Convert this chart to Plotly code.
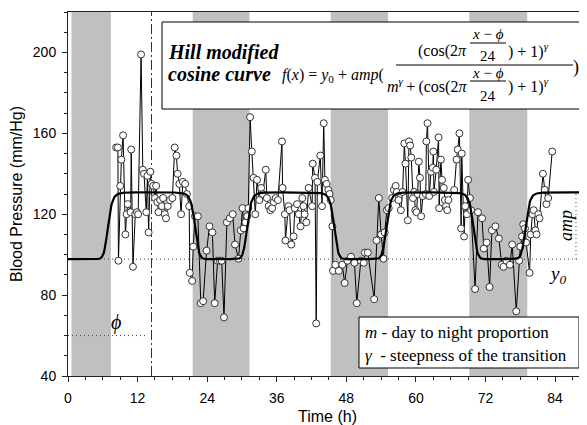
import numpy as np
import plotly.graph_objects as go

# ---------------- data ----------------
time_h = [8.3, 8.6, 8.7, 9.0, 9.2, 9.5, 9.9, 10.1, 10.3, 10.8, 10.9, 11.2, 11.6, 11.9, 12.1, 12.6, 12.9, 13.1,
          13.5, 13.7, 13.9, 14.2, 14.4, 14.7, 15.0, 15.2, 15.4, 15.6, 15.9, 16.2, 16.4, 16.7, 16.9, 17.2, 17.6,
          18.0, 18.4, 18.7, 18.9, 19.2, 19.5, 19.8, 20.2, 20.5, 20.9, 21.0, 21.4, 21.6, 21.9, 22.4, 22.9, 23.3,
          23.9, 24.4, 24.9, 25.3, 25.8, 26.2, 26.5, 26.9, 27.4, 27.9, 28.4, 28.8, 29.4, 29.8, 30.1, 30.3, 30.6,
          30.9, 31.1, 31.4, 31.7, 32.0, 32.3, 32.6, 33.0, 33.3, 33.6, 34.1, 34.3, 34.6, 34.9, 35.2, 35.5, 35.8,
          36.2, 36.9, 37.0, 37.4, 37.5, 38.0, 38.2, 38.5, 38.9, 39.1, 39.5, 39.8, 40.1, 40.4, 40.6, 40.8, 41.1,
          41.5, 42.1, 42.2, 42.6, 42.8, 43.0, 43.5, 43.8, 44.1, 44.3, 44.6, 44.9, 45.1, 45.3, 45.6, 45.7, 46.1,
          46.7, 47.3, 47.7, 48.2, 48.8, 49.4, 49.8, 50.5, 51.0, 51.2, 51.7, 52.8, 53.2, 53.6, 54.0, 54.4, 54.6,
          55.0, 55.3, 55.9, 56.2, 56.5, 56.7, 57.0, 57.4, 57.7, 58.0, 58.2, 58.6, 58.8, 59.0, 59.2, 59.5, 59.7,
          59.9, 60.1, 60.3, 60.5, 60.7, 60.9, 61.2, 61.7, 61.8, 62.0, 62.3, 62.6, 62.9, 63.0, 63.1, 63.5, 63.9,
          64.0, 64.3, 64.5, 64.8, 65.0, 65.2, 65.4, 65.6, 66.6, 67.0, 67.2, 67.5, 67.8, 67.9, 68.3, 68.5, 68.8,
          69.0, 69.3, 69.5, 70.2, 70.7, 71.4, 71.7, 72.2, 72.7, 73.1, 73.7, 74.3, 74.8, 75.1, 75.6, 76.2, 76.6,
          77.3, 77.8, 78.0, 78.3, 78.5, 78.8, 79.0, 79.6, 79.8, 80.1, 80.3, 80.6, 80.8, 81.1, 81.3, 81.9, 82.2,
          82.5, 82.8, 83.5]
bp_mmhg = [153, 153, 97, 134, 147, 159, 110, 120, 125, 121, 152, 94, 120, 121, 120, 199, 142, 140,
           121, 139, 111, 141, 135, 134, 128, 134, 126, 121, 127, 124, 128, 120, 118, 124, 127,
           128, 153, 149, 140, 135, 120, 136, 135, 130, 124, 91, 87, 104, 119, 119, 76, 77,
           102, 114, 111, 76, 97, 97, 97, 69, 116, 118, 120, 105, 98, 112, 123, 113, 116,
           119, 123, 168, 151, 138, 120, 137, 127, 133, 130, 142, 128, 124, 122, 123, 126, 128,
           127, 156, 133, 120, 107, 124, 122, 105, 109, 123, 125, 120, 114, 128, 124, 120, 116,
           133, 124, 145, 138, 66, 136, 149, 124, 165, 137, 135, 132, 130, 127, 114, 92, 95,
           92, 95, 86, 97, 99, 96, 76, 97, 96, 101, 101, 78, 107, 128, 110, 98, 111,
           122, 123, 128, 132, 134, 131, 127, 122, 131, 155, 145, 117, 156, 154, 148, 128, 131,
           122, 121, 130, 146, 138, 119, 129, 130, 156, 165, 129, 141, 143, 151, 131, 142, 158,
           123, 147, 137, 133, 127, 124, 122, 127, 132, 147, 152, 160, 113, 150, 109, 124, 120,
           137, 128, 122, 83, 121, 118, 103, 106, 84, 112, 114, 108, 95, 94, 97, 95, 105,
           72, 97, 104, 109, 115, 113, 106, 91, 110, 120, 122, 112, 110, 120, 118, 140, 132,
           125, 128, 151]

# night periods (shaded)
night_start = [0.6, 21.5, 45.3, 69.2]
night_end = [7.4, 31.3, 55.2, 79.2]

# fitted Hill modified cosine parameters
y0 = 97.8
amp = 33.0
phi = 14.4
m_par = 0.62
gamma = 7.0

x_tick_vals = [0, 12, 24, 36, 48, 60, 72, 84]
y_tick_vals = [40, 80, 120, 160, 200]

# ---------------- layout geometry ----------------
# the page body has an 8px margin, so the figure starts at (8, 8) in the window
OFF = 8
W, H = 587 - OFF, 425 - OFF
ML, MR, MT, MB = 68 - OFF, 0, 12 - OFF, 49
XMIN, XMAX = 0, 89.5
YMIN, YMAX = 40, 220
PW, PH = W - ML - MR, H - MT - MB


def px2x(px):  # window pixel -> data x
    return XMIN + (px - OFF - ML) / PW * (XMAX - XMIN)


def py2y(py):  # window pixel -> data y
    return YMIN + (H - MB - (py - OFF)) / PH * (YMAX - YMIN)


xc = np.linspace(XMIN, XMAX, 900)
c = np.cos(2 * np.pi * (xc - phi) / 24) + 1
fit = y0 + amp * (c ** gamma / (m_par ** gamma + c ** gamma))

fig = go.Figure()

fig.add_trace(go.Scatter(x=time_h, y=bp_mmhg, mode="lines+markers",
                         line=dict(color="black", width=1),
                         marker=dict(size=7, color="white", line=dict(color="#333333", width=1)),
                         showlegend=False, hoverinfo="x+y"))
fig.add_trace(go.Scatter(x=xc, y=fit, mode="lines", line=dict(color="black", width=2.2),
                         showlegend=False, hoverinfo="skip"))

shapes = []
for s, e in zip(night_start, night_end):
    shapes.append(dict(type="rect", xref="x", yref="y", x0=s, x1=e, y0=YMIN, y1=YMAX,
                       fillcolor="#c0c0c0", line=dict(width=0), layer="below"))
# y0 dotted line
shapes.append(dict(type="line", xref="x", yref="y", x0=XMIN, x1=XMAX, y0=y0, y1=y0,
                   line=dict(color="#444", width=1, dash="1px,3px"), layer="below"))
# phi dotted line
shapes.append(dict(type="line", xref="x", yref="y", x0=XMIN, x1=phi - 0.6, y0=60, y1=60,
                   line=dict(color="#444", width=1, dash="1px,3px"), layer="below"))
# phi vertical dash-dot line
shapes.append(dict(type="line", xref="x", yref="y", x0=phi, x1=phi, y0=YMIN, y1=YMAX,
                   line=dict(color="#333", width=1, dash="10px,3px,2px,3px"), layer="below"))
# amp dotted vertical
shapes.append(dict(type="line", xref="x", yref="y", x0=87.6, x1=87.6, y0=y0, y1=y0 + amp,
                   line=dict(color="#444", width=1, dash="1px,3px"), layer="below"))
# formula box
shapes.append(dict(type="rect", xref="x", yref="y", x0=px2x(162), x1=px2x(582), y0=py2y(109), y1=py2y(22),
                   fillcolor="white", line=dict(color="black", width=1), layer="above"))
# legend box
shapes.append(dict(type="rect", xref="x", yref="y", x0=px2x(359), x1=px2x(579), y0=py2y(368), y1=py2y(317),
                   fillcolor="white", line=dict(color="black", width=1), layer="above"))
# fraction bars
for (a, b, yy) in [(396, 573, 65), (470, 506, 43), (470, 506, 81)]:
    shapes.append(dict(type="line", xref="x", yref="y", x0=px2x(a), x1=px2x(b), y0=py2y(yy), y1=py2y(yy),
                       line=dict(color="black", width=1), layer="above"))

SERIF = "Liberation Serif, Times New Roman, serif"
TS = "\u2009"
ann = []


def add(text, px, py, size, xanchor="center", angle=0):
    ann.append(dict(text=text, x=px2x(px), y=py2y(py), xref="x", yref="y", showarrow=False,
                    xanchor=xanchor, yanchor="middle", textangle=angle,
                    font=dict(family=SERIF, size=size, color="black")))


add("<b><i>Hill modified</i></b>", 166, 52, 20, "left")
add("<b><i>cosine curve</i></b>", 166, 74, 20, "left")
add("<i>f</i>(<i>x</i>) = <i>y</i><sub>0</sub> + <i>amp</i>(", 280, 75, 16, "left")
add("(cos(2<i>π</i>", 469, 51, 16, "right")
add("<i>x</i> − <i>ϕ</i>", 488, 34, 15)
add("24", 488, 56, 15)
add(") + 1)<sup><i>γ</i></sup>", 506, 50, 16, "left")
add(f"<i>m</i><sup><i>γ</i></sup>{TS}+{TS}(cos(2<i>π</i>", 469, 85, 16, "right")
add("<i>x</i> − <i>ϕ</i>", 488, 73, 15)
add("24", 488, 96, 15)
add(") + 1)<sup><i>γ</i></sup>", 506, 85, 16, "left")
add(")", 576, 67, 18)
add("<i>m</i> - day to night proportion", 363, 332, 17, "left")
add("<i>γ</i>  - steepness of the transition", 363, 355, 17, "left")
add("<i>ϕ</i>", 116, 322, 20)
add("<i>y<sub>0</sub></i>", 557, 275, 19)
add("<i>amp</i>", 566, 226, 18, angle=-90)

fig.update_layout(
    width=W, height=H,
    margin=dict(l=ML, r=MR, t=MT, b=MB, pad=0, autoexpand=False),
    paper_bgcolor="white", plot_bgcolor="white",
    shapes=shapes, annotations=ann,
    font=dict(family="Arial, Liberation Sans, sans-serif", size=14, color="black"),
    xaxis=dict(range=[XMIN, XMAX], tickvals=x_tick_vals, ticks="outside", ticklen=5, tickwidth=1,
               tickcolor="#222", showline=True, linecolor="#222", linewidth=1, mirror=True,
               showgrid=False, zeroline=False, automargin=False, ticklabelstandoff=4,
               minor=dict(dtick=3, tick0=0, ticks="outside", ticklen=3, tickcolor="#222", showgrid=False),
               title=dict(text="Time (h)", font=dict(size=16), standoff=6),
               tickfont=dict(size=14)),
    yaxis=dict(range=[YMIN, YMAX], tickvals=y_tick_vals, ticks="outside", ticklen=5, tickwidth=1,
               tickcolor="#222", showline=True, linecolor="#222", linewidth=1, mirror=True,
               showgrid=False, zeroline=False, automargin=False, ticklabelstandoff=3,
               minor=dict(dtick=10, tick0=0, ticks="outside", ticklen=3, tickcolor="#222", showgrid=False),
               title=dict(text="Blood Pressure (mm/Hg)", font=dict(size=16), standoff=6),
               tickfont=dict(size=14)),
)

fig.write_html("out.html")
